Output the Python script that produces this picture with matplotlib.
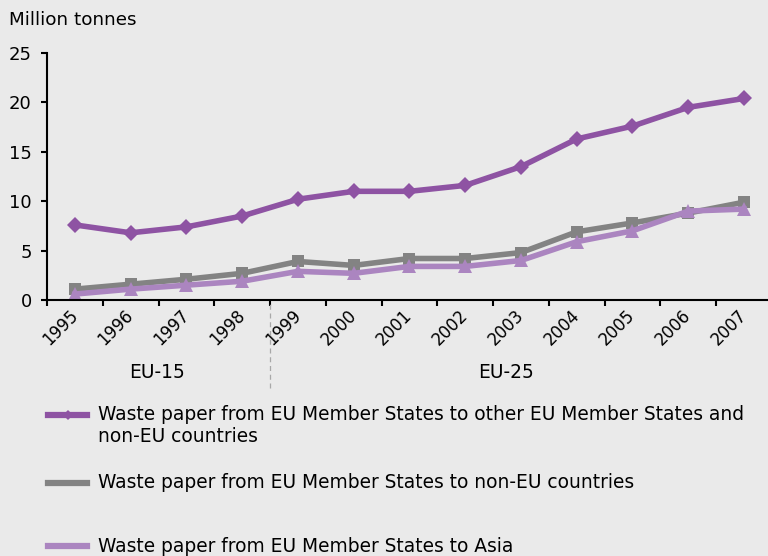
import matplotlib
matplotlib.use('Agg')
import matplotlib.pyplot as plt
from matplotlib.lines import Line2D
from matplotlib.transforms import ScaledTranslation

# Data (million tonnes)
years = ['1995', '1996', '1997', '1998', '1999', '2000', '2001',
         '2002', '2003', '2004', '2005', '2006', '2007']
to_eu_and_non_eu = [7.6, 6.8, 7.4, 8.5, 10.2, 11.0, 11.0, 11.6, 13.5, 16.3, 17.6, 19.5, 20.4]
to_non_eu = [1.1, 1.6, 2.1, 2.7, 3.9, 3.5, 4.2, 4.2, 4.8, 6.9, 7.8, 8.8, 9.9]
to_asia = [0.6, 1.1, 1.5, 1.9, 2.9, 2.7, 3.4, 3.4, 4.0, 5.9, 7.0, 9.0, 9.2]
labels = [
    'Waste paper from EU Member States to other EU Member States and\nnon-EU countries',
    'Waste paper from EU Member States to non-EU countries',
    'Waste paper from EU Member States to Asia',
]
period_labels = ['EU-15', 'EU-25']

bg = '#eaeaea'
c_purple = '#8e53a3'
c_grey = '#838383'
c_light = '#ab85c0'

fig = plt.figure(figsize=(7.68, 5.56), dpi=100, facecolor=bg)
ax = fig.add_axes([47 / 768, 256 / 556, 721 / 768, 247 / 556])
ax.set_facecolor(bg)

x = list(range(len(years)))
series = [
    (to_eu_and_non_eu, c_purple, 'D', 8.5),
    (to_non_eu, c_grey, 's', 8),
    (to_asia, c_light, '^', 9.5),
]
for vals, col, mk, ms in series:
    ax.plot(x, vals, color=col, lw=4, marker=mk, markersize=ms,
            markeredgewidth=0, solid_joinstyle='round')

ax.set_ylim(0, 25)
ax.set_yticks([0, 5, 10, 15, 20, 25])
ax.set_xlim(-0.5, 12.43)
ax.set_xticks([i - 0.5 for i in range(len(years))])
ax.set_xticklabels([])
ax.set_xticks(x, minor=True)
ax.set_xticklabels(years, minor=True, rotation=45, ha='right', va='center',
                   rotation_mode='anchor', fontsize=12)
shift = ScaledTranslation(6 / 100, 0, fig.dpi_scale_trans)
for lbl in ax.get_xticklabels(minor=True):
    lbl.set_transform(lbl.get_transform() + shift)
ax.tick_params(axis='x', which='minor', length=0, pad=9)
ax.tick_params(axis='x', which='major', length=4, width=1.5, color='black')
ax.tick_params(axis='y', length=4, width=1.5, labelsize=13, pad=7)

for side in ['top', 'right']:
    ax.spines[side].set_visible(False)
for side in ['left', 'bottom']:
    ax.spines[side].set_linewidth(1.5)
    ax.spines[side].set_color('black')

# EU-15 / EU-25 split
ax.axvline(3.5, ymin=-0.357, ymax=0, color='#a8a8a8', lw=0.9,
           ls=(0, (4, 3)), clip_on=False)
ax.text(1.47, -0.295, period_labels[0], transform=ax.get_xaxis_transform(),
        ha='center', va='center', fontsize=13.4)
ax.text(7.73, -0.295, period_labels[1], transform=ax.get_xaxis_transform(),
        ha='center', va='center', fontsize=13.4)

fig.text(9 / 768, 1 - 20 / 556, 'Million tonnes', ha='left', va='center',
         fontsize=13.2)

# Legend drawn below the plot
legend_y = [415, 483, 546]
for (vals, col, mk, ms), lab, ly in zip(series, labels, legend_y):
    yy = 1 - ly / 556
    fig.add_artist(Line2D([48 / 768, 87 / 768], [yy, yy], color=col, lw=4.5,
                          transform=fig.transFigure))
    fig.add_artist(Line2D([67.5 / 768], [yy], color=col, marker=mk,
                          markersize=5, markeredgewidth=0,
                          transform=fig.transFigure))
    lines = lab.split('\n')
    for k, line in enumerate(lines):
        fig.text(98 / 768, yy - k * 22 / 556, line, ha='left', va='center',
                 fontsize=13.4)

fig.savefig('out.png', dpi=100, facecolor=bg)
